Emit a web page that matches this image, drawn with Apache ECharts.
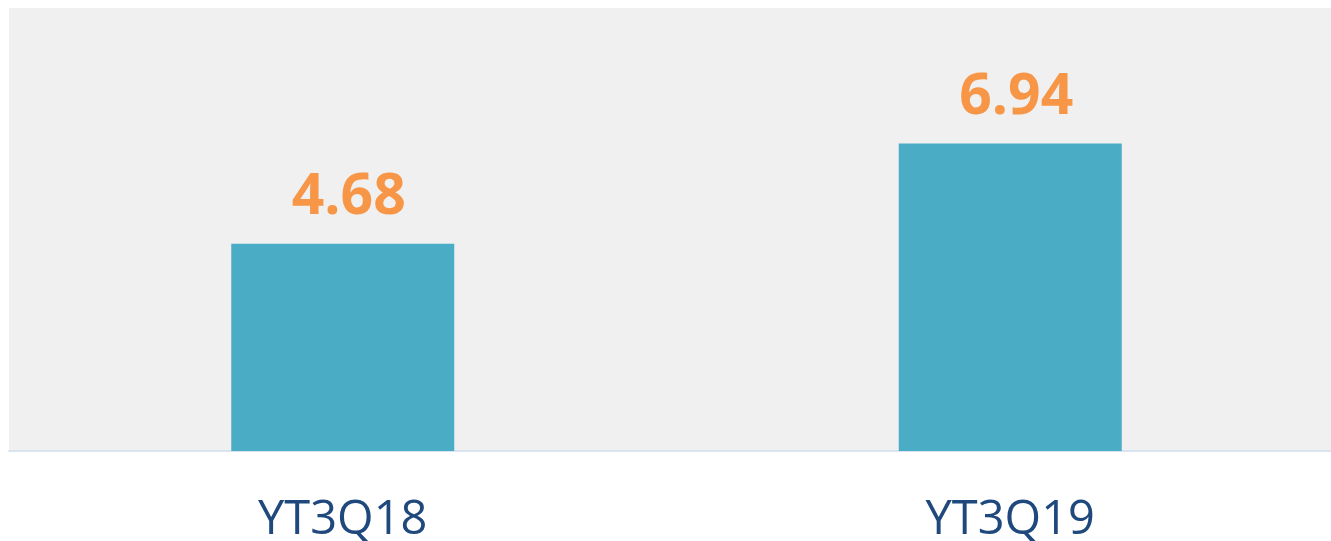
<!DOCTYPE html>
<html>
<head>
<meta charset="utf-8">
<script src="https://cdn.jsdelivr.net/npm/echarts@6/dist/echarts.min.js"></script>
<style>
  html, body { margin: 0; padding: 0; background: #fff; }
  #chart { width: 1331px; height: 541px; }
</style>
</head>
<body>
<div id="chart"></div>
<script>
const categories = ['YT3Q18', 'YT3Q19']
const values = [4.68, 6.94]

const chart = echarts.init(document.getElementById('chart'))

chart.setOption({
  backgroundColor: '#ffffff',
  animation: false,
  grid: {
    left: 9, width: 1335, top: 8, height: 443,
    outerBoundsMode: 'none',
    show: true, backgroundColor: '#f0f0f0', borderWidth: 0
  },
  xAxis: {
    type: 'category',
    data: categories,
    axisLine: { lineStyle: { color: '#dae4f0', width: 2 } },
    axisTick: { show: false },
    axisLabel: {
      color: '#1f497d', fontSize: 47, fontFamily: 'Open Sans',
      margin: 46, lineHeight: 47
    }
  },
  yAxis: {
    type: 'value', min: 0, max: 10,
    show: false, splitLine: { show: false }
  },
  series: [{
    type: 'bar',
    data: values,
    barWidth: 223,
    itemStyle: { color: '#4bacc6' },
    label: {
      show: true, position: 'top', distance: 16, offset: [6, -1],
      color: '#f79646', fontSize: 57, fontWeight: 'bold',
      fontFamily: 'Open Sans',
      formatter: p => p.value.toFixed(2)
    }
  }]
})
</script>
</body>
</html>
